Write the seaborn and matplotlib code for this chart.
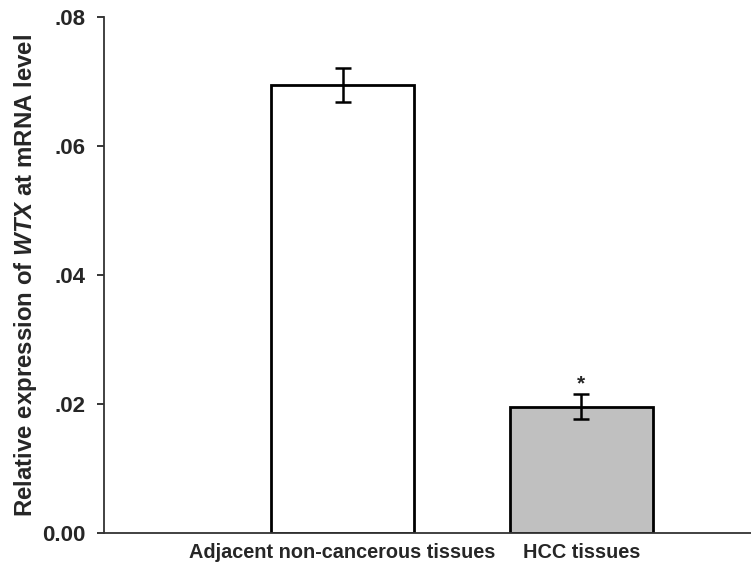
import numpy as np
import pandas as pd
import matplotlib
matplotlib.use('Agg')
import matplotlib.pyplot as plt
import seaborn as sns

groups = ['Adjacent non-cancerous tissues', 'HCC tissues']
means = [0.0695, 0.0196]
errors = [0.0026, 0.0019]
colors = ['#ffffff', '#c0c0c0']
ytick_vals = [0.00, 0.02, 0.04, 0.06, 0.08]
ytick_text = ['0.00', '.02', '.04', '.06', '.08']

sns.set_style('ticks')
plt.rcParams['font.family'] = ['Liberation Sans', 'DejaVu Sans']
plt.rcParams['mathtext.fontset'] = 'custom'
plt.rcParams['mathtext.it'] = 'Liberation Sans:italic:bold'
plt.rcParams['mathtext.rm'] = 'Liberation Sans:bold'

df = pd.DataFrame({'group': groups, 'value': means})

fig = plt.figure(figsize=(7.51, 5.67), dpi=100)
ax = fig.add_axes([0.138, 0.06, 0.862, 0.91])
sns.barplot(data=df, x='group', y='value', hue='group', palette=colors,
            width=0.6, edgecolor='black', linewidth=2, legend=False, ax=ax)
ax.errorbar(x=np.arange(len(groups)), y=means, yerr=errors, fmt='none',
            ecolor='black', elinewidth=1.8, capsize=6, capthick=1.8)
ax.text(1, means[1] + errors[1] + 0.0002, '*', ha='center', va='bottom',
        fontsize=15, fontweight='bold')

ax.set_xlim(-1.0, 1.71)
ax.set_ylim(0, 0.08)
ax.set_yticks(ytick_vals)
ax.set_yticklabels(ytick_text, fontsize=16, fontweight='bold')
ax.tick_params(axis='y', length=5, width=1.3, direction='out', pad=8)
ax.tick_params(axis='x', length=0, labelsize=14.3, pad=7)
for lbl in ax.get_xticklabels():
    lbl.set_fontweight('bold')
ax.set_xlabel('')
ax.set_ylabel(r'Relative expression of $\mathit{WTX}$ at mRNA level',
              fontsize=17.3, fontweight='bold', labelpad=2)
sns.despine(ax=ax)
ax.spines['left'].set_linewidth(1.3)
ax.spines['bottom'].set_linewidth(1.3)
ax.spines['left'].set_color('#333333')
ax.spines['bottom'].set_color('#333333')

fig.savefig('out.png', dpi=100)
